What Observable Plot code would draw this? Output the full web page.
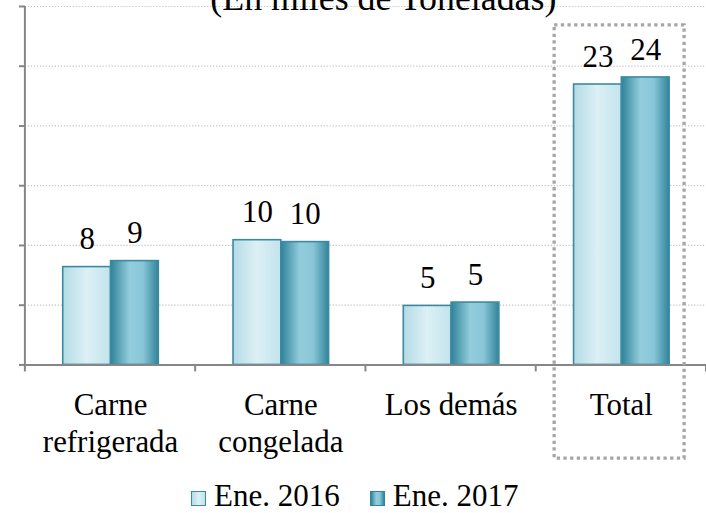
<!DOCTYPE html>
<html><head><meta charset="utf-8">
<script src="https://cdn.jsdelivr.net/npm/d3@7"></script>
<script src="https://cdn.jsdelivr.net/npm/@observablehq/plot@0.6"></script>
<style>
html,body{margin:0;padding:0;overflow:hidden;background:#fff;}
#wrap{position:relative;width:706px;height:513px;overflow:hidden;font-family:"Liberation Serif","Times New Roman",serif;}
#wrap svg text{font-family:"Liberation Serif","Times New Roman",serif;}
#legend{position:absolute;left:191px;top:481px;display:flex;align-items:baseline;font-size:31px;line-height:29px;color:#000;white-space:nowrap;}
#legend .item{display:flex;align-items:baseline;}
#legend .sw{display:inline-block;width:13px;height:13px;border:1.5px solid #3a8ba1;margin-right:8px;}
</style>
</head><body>
<div id="wrap"></div>
<script>
const categories = ["Carne\nrefrigerada", "Carne\ncongelada", "Los demás", "Total"];
const years = ["Ene. 2016", "Ene. 2017"];
const values2016 = [8.19, 10.44, 4.94, 23.47];
const values2017 = [8.69, 10.28, 5.22, 24.06];
const labels2016 = ["8", "10", "5", "23"];
const labels2017 = ["9", "10", "5", "24"];
const yTicks = [0, 5, 10, 15, 20, 25, 30];
const title = "(En miles de Toneladas)";
const highlighted = ["Total"];

const data = categories.flatMap((c, i) => [
  {cat: c, year: years[0], value: values2016[i], label: labels2016[i]},
  {cat: c, year: years[1], value: values2017[i], label: labels2017[i]}
]);

const gradIds = ["g2016", "g2017"];
const serif = "Liberation Serif";

const plot = Plot.plot({
  width: 709,
  height: 513,
  marginLeft: 25,
  marginRight: 0,
  marginTop: 6,
  marginBottom: 147,
  style: {fontFamily: serif, background: "transparent", overflow: "visible", color: "#000"},
  fx: {domain: categories, padding: 0, axis: null, label: null},
  x: {domain: years, paddingInner: 0, paddingOuter: 0.745, axis: null, label: null},
  y: {domain: [0, 30], axis: null, label: null},
  color: {domain: years, range: gradIds.map(id => `url(#${id})`)},
  marks: [
    Plot.gridY(yTicks.slice(1), {stroke: "#c3c3c3", strokeOpacity: 1, strokeWidth: 1.2, strokeDasharray: "1.2,1.8"}),
    Plot.barY(data, {fx: "cat", x: "year", y: "value", fill: "year", stroke: "#3a8ba1", strokeWidth: 1.6}),
    Plot.ruleY([0], {stroke: "#868686", strokeWidth: 2}),
    Plot.axisY(yTicks, {tickSize: 6, tickFormat: () => "", label: null, stroke: "#868686", strokeWidth: 2}),
    Plot.text(data, {fx: "cat", x: "year", y: "value", text: "label", lineAnchor: "bottom", dy: -18, fontSize: 31, fontFamily: serif, fill: "#000"}),
    Plot.text(categories, {fx: d => d, text: d => d, frameAnchor: "bottom", lineAnchor: "top", dy: 24, fontSize: 31, fontFamily: serif, lineHeight: 1.19, fill: "#000"}),
    Plot.rect(highlighted, {fx: d => d, insetLeft: 18.5, insetRight: 22, insetTop: 19, insetBottom: -94, fill: "none", stroke: "#a6a6a6", strokeWidth: 3.3, strokeDasharray: "3.3,3.4"})
  ]
});

const svg = d3.select(plot);
const defs = svg.insert("defs", ":first-child");
const g1 = defs.append("linearGradient").attr("id", gradIds[0]).attr("x1", "0").attr("x2", "1").attr("y1", "0").attr("y2", "0");
[["0%", "#b4dbe6"], ["50%", "#dcf0f5"], ["100%", "#c2e3ec"]].forEach(([o, c]) => g1.append("stop").attr("offset", o).attr("stop-color", c));
const g2 = defs.append("linearGradient").attr("id", gradIds[1]).attr("x1", "0").attr("x2", "1").attr("y1", "0").attr("y2", "0");
[["0%", "#2f8299"], ["40%", "#92cddd"], ["68%", "#88c6d7"], ["100%", "#31849b"]].forEach(([o, c]) => g2.append("stop").attr("offset", o).attr("stop-color", c));

// axis line and category separators from the plot's own scales
const fx = plot.scale("fx");
const y = plot.scale("y");
const x0 = fx.range[0];
const yTop = y.apply(yTicks[yTicks.length - 1]);
const yBase = y.apply(0);
const deco = svg.append("g").attr("stroke", "#868686").attr("stroke-width", 2);
deco.append("line").attr("x1", x0).attr("x2", x0).attr("y1", yTop).attr("y2", yBase);
const seps = categories.map(c => fx.apply(c)).concat([fx.apply(categories[categories.length - 1]) + fx.step]);
seps.forEach(sx => deco.append("line").attr("x1", sx).attr("x2", sx).attr("y1", yBase).attr("y2", yBase + 7));

svg.append("text").attr("x", 385).attr("y", 10).attr("text-anchor", "middle")
  .attr("font-family", serif).attr("font-size", 36).attr("fill", "#000").text(title);

const wrap = document.getElementById("wrap");
wrap.appendChild(plot);

const legend = document.createElement("div");
legend.id = "legend";
const swStyles = [
  "background:linear-gradient(to right,#b4dbe6,#dcf0f5,#c2e3ec);",
  "background:linear-gradient(to right,#2f8299,#92cddd 40%,#88c6d7 68%,#31849b);border-color:#31849b;"
];
years.forEach((yr, i) => {
  const item = document.createElement("span");
  item.className = "item";
  if (i > 0) item.style.marginLeft = "30px";
  const sw = document.createElement("span");
  sw.className = "sw";
  sw.style.cssText = swStyles[i];
  const t = document.createElement("span");
  t.textContent = yr;
  item.appendChild(sw);
  item.appendChild(t);
  legend.appendChild(item);
});
wrap.appendChild(legend);
</script>
</body></html>
